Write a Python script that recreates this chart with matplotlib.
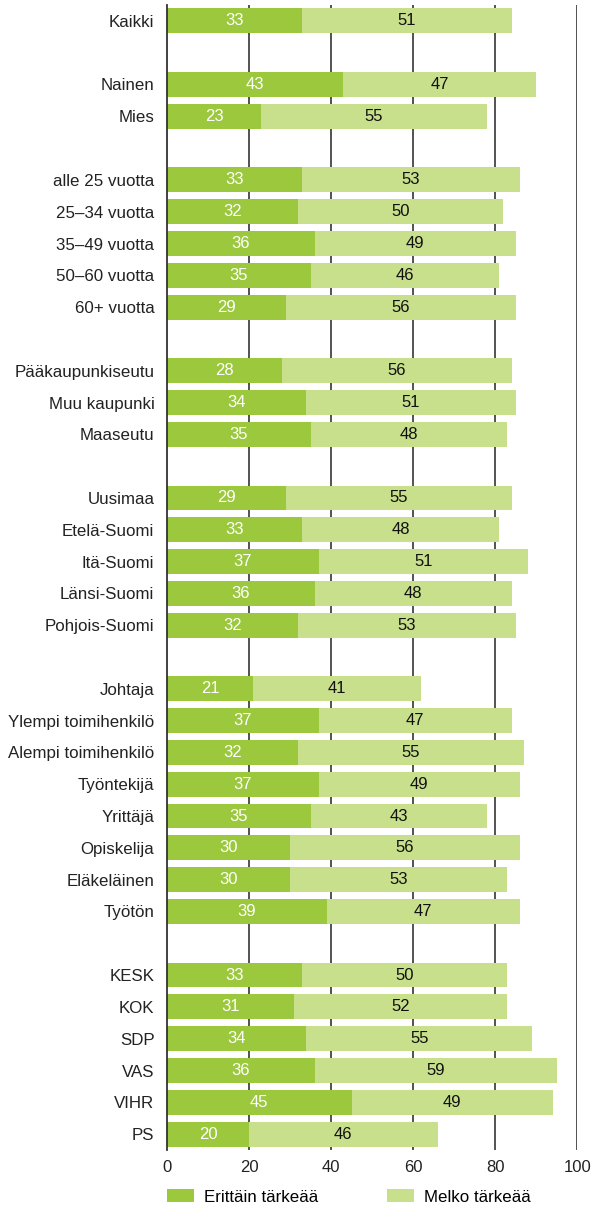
import matplotlib.pyplot as plt

plt.rcParams['font.family'] = ['Liberation Sans', 'DejaVu Sans']

# None = empty row between groups
labels = ['Kaikki', None,
          'Nainen', 'Mies', None,
          'alle 25 vuotta', '25–34 vuotta', '35–49 vuotta', '50–60 vuotta', '60+ vuotta', None,
          'Pääkaupunkiseutu', 'Muu kaupunki', 'Maaseutu', None,
          'Uusimaa', 'Etelä-Suomi', 'Itä-Suomi', 'Länsi-Suomi', 'Pohjois-Suomi', None,
          'Johtaja', 'Ylempi toimihenkilö', 'Alempi toimihenkilö', 'Työntekijä', 'Yrittäjä',
          'Opiskelija', 'Eläkeläinen', 'Työtön', None,
          'KESK', 'KOK', 'SDP', 'VAS', 'VIHR', 'PS']
erittain = [33, None, 43, 23, None, 33, 32, 36, 35, 29, None, 28, 34, 35, None,
            29, 33, 37, 36, 32, None, 21, 37, 32, 37, 35, 30, 30, 39, None,
            33, 31, 34, 36, 45, 20]
melko = [51, None, 47, 55, None, 53, 50, 49, 46, 56, None, 56, 51, 48, None,
         55, 48, 51, 48, 53, None, 41, 47, 55, 49, 43, 56, 53, 47, None,
         50, 52, 55, 59, 49, 46]

dark = '#9bc83c'
light = '#c8df8c'

fig = plt.figure(figsize=(5.92, 12.07), dpi=100)
ax = fig.add_axes([0.282, 0.0472, 0.693, 0.9487])

ys = [i for i, l in enumerate(labels) if l is not None]
e = [erittain[i] for i in ys]
m = [melko[i] for i in ys]
h = 0.78
b1 = ax.barh(ys, e, height=h, color=dark, label='Erittäin tärkeää', zorder=3)
b2 = ax.barh(ys, m, left=e, height=h, color=light, label='Melko tärkeää', zorder=3)

for y, a, b in zip(ys, e, m):
    ax.text(a / 2, y, str(a), ha='center', va='center', color='white', fontsize=12, zorder=4)
    ax.text(a + b / 2, y, str(b), ha='center', va='center', color='#111111', fontsize=12, zorder=4)

ax.set_xlim(0, 100)
ax.set_ylim(len(labels) - 0.5, -0.5)
ax.set_yticks(ys)
ax.set_yticklabels([labels[i] for i in ys], fontsize=12.2, color='#222222')
ax.set_xticks([0, 20, 40, 60, 80, 100])
ax.tick_params(axis='y', length=0, pad=9)
ax.tick_params(axis='x', length=0, pad=7, labelsize=12, colors='#222222')
for x in [20, 40, 60, 80, 100]:
    ax.axvline(x, color='#444444', lw=1.3, zorder=1)
for s in ['top', 'right', 'bottom']:
    ax.spines[s].set_visible(False)
ax.spines['left'].set_color('#333333')
ax.spines['left'].set_linewidth(1.3)
ax.spines['left'].set_zorder(5)

# two separate legend entries, placed like the original
for handle, x0 in [(b1, 167 / 592), (b2, 387 / 592)]:
    leg = fig.legend(handles=[handle], loc='lower left', bbox_to_anchor=(x0, 0.002),
                     frameon=False, fontsize=12.2, handlelength=1.6, handleheight=0.85,
                     handletextpad=0.6, borderpad=0, borderaxespad=0)

fig.savefig('out.png', dpi=100)
